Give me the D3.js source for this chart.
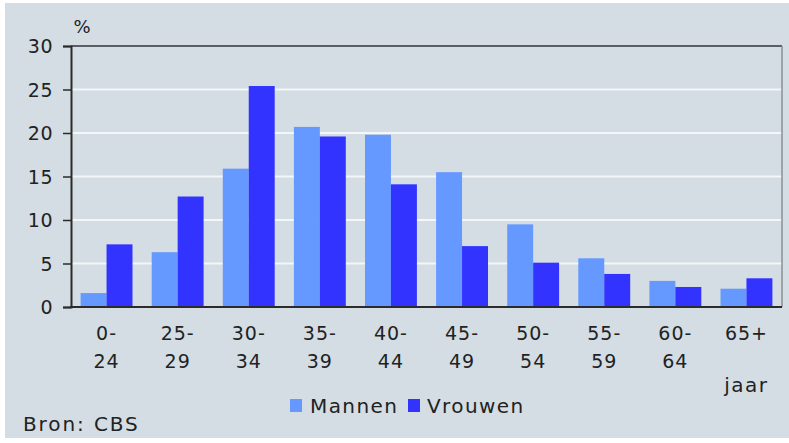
<!DOCTYPE html>
<html>
<head>
<meta charset="utf-8">
<script src="https://cdn.jsdelivr.net/npm/d3@7"></script>
<style>
  html, body { margin: 0; padding: 0; background: #fff; }
  text { font-family: "DejaVu Sans", Verdana, sans-serif; fill: #222; }
</style>
</head>
<body>
<div id="chart"></div>
<script>
// leeftijdsklassen (bovenste en onderste regel van het label)
const categories = ["0-24", "25-29", "30-34", "35-39", "40-44", "45-49", "50-54", "55-59", "60-64", "65+"];
const labelTop = ["0-", "25-", "30-", "35-", "40-", "45-", "50-", "55-", "60-", "65+"];
const labelBottom = ["24", "29", "34", "39", "44", "49", "54", "59", "64", ""];

const series = ["Mannen", "Vrouwen"];
const mannen = [1.6, 6.3, 15.9, 20.7, 19.8, 15.5, 9.5, 5.6, 3.0, 2.1];
const vrouwen = [7.2, 12.7, 25.4, 19.6, 14.1, 7.0, 5.1, 3.8, 2.3, 3.3];
const yTicks = [0, 5, 10, 15, 20, 25, 30];

const colors = { Mannen: "#6699ff", Vrouwen: "#3333ff" };

const width = 789, height = 443;
const plot = { left: 71, right: 782, top: 46, bottom: 307 };

const svg = d3.select("#chart").append("svg")
    .attr("width", width)
    .attr("height", height);

// achtergrond
svg.append("rect")
    .attr("x", 5).attr("y", 3)
    .attr("width", width - 5).attr("height", 435)
    .attr("fill", "#d3dde3");

const x = d3.scaleBand()
    .domain(categories)
    .range([plot.left, plot.right])
    .paddingInner(0.27)
    .paddingOuter(0.135);

const xSub = d3.scaleBand()
    .domain(series)
    .range([0, x.bandwidth()]);

const y = d3.scaleLinear()
    .domain([0, 30])
    .range([plot.bottom, plot.top]);

// witte rasterlijnen
svg.append("g")
    .selectAll("line")
    .data(yTicks.filter(d => d > 0 && d < 30))
    .join("line")
    .attr("x1", plot.left).attr("x2", plot.right)
    .attr("y1", d => y(d)).attr("y2", d => y(d))
    .attr("stroke", "#f4f7f9")
    .attr("stroke-width", 2);

// kader boven en rechts
svg.append("line")
    .attr("x1", plot.left).attr("x2", plot.right)
    .attr("y1", y(30)).attr("y2", y(30))
    .attr("stroke", "#5a5f63").attr("stroke-width", 2);
svg.append("line")
    .attr("x1", plot.right).attr("x2", plot.right)
    .attr("y1", y(30)).attr("y2", y(0))
    .attr("stroke", "#8a9095").attr("stroke-width", 1.5);

// balken
const rows = categories.map((c, i) => ({ cat: c, Mannen: mannen[i], Vrouwen: vrouwen[i] }));

svg.append("g")
    .selectAll("g")
    .data(rows)
    .join("g")
    .attr("transform", d => `translate(${x(d.cat)},0)`)
    .selectAll("rect")
    .data(d => series.map(s => ({ key: s, value: d[s] })))
    .join("rect")
    .attr("x", d => xSub(d.key))
    .attr("width", xSub.bandwidth())
    .attr("y", d => y(d.value))
    .attr("height", d => y(0) - y(d.value))
    .attr("fill", d => colors[d.key]);

// y-as
const yAxis = svg.append("g")
    .attr("transform", `translate(${plot.left},0)`)
    .call(d3.axisLeft(y).tickValues(yTicks).tickSize(8).tickPadding(10));
yAxis.select(".domain").attr("stroke", "#2b2b2b").attr("stroke-width", 2);
yAxis.selectAll(".tick line").attr("stroke", "#2b2b2b").attr("stroke-width", 1.5);
yAxis.selectAll(".tick text")
    .attr("font-size", 19)
    .attr("font-family", "DejaVu Sans, Verdana, sans-serif")
    .attr("fill", "#222")
    .attr("letter-spacing", 0.5)
    .attr("dy", "0.36em");

// x-as lijn
svg.append("line")
    .attr("x1", plot.left - 1).attr("x2", plot.right)
    .attr("y1", y(0)).attr("y2", y(0))
    .attr("stroke", "#2b2b2b").attr("stroke-width", 2);

// categorie labels
const xl = svg.append("g")
    .selectAll("text")
    .data(categories)
    .join("text")
    .attr("text-anchor", "middle")
    .attr("font-size", 19)
    .attr("letter-spacing", 1);
xl.append("tspan")
    .attr("x", d => x(d) + x.bandwidth() / 2)
    .attr("y", 340)
    .text((d, i) => labelTop[i]);
xl.append("tspan")
    .attr("x", d => x(d) + x.bandwidth() / 2)
    .attr("y", 368)
    .text((d, i) => labelBottom[i]);

// eenheden
svg.append("text")
    .attr("x", 82).attr("y", 33)
    .attr("text-anchor", "middle")
    .attr("font-size", 18)
    .text("%");

svg.append("text")
    .attr("x", x(categories[categories.length - 1]) + x.bandwidth() / 2)
    .attr("y", 392)
    .attr("text-anchor", "middle")
    .attr("font-size", 20)
    .attr("letter-spacing", 1.5)
    .text("jaar");

// legenda
const legendPos = [{ key: "Mannen", sx: 290, tx: 310 }, { key: "Vrouwen", sx: 408, tx: 427 }];
const lg = svg.append("g")
    .selectAll("g")
    .data(legendPos)
    .join("g");
lg.append("rect")
    .attr("x", d => d.sx).attr("y", 399)
    .attr("width", 12).attr("height", 13)
    .attr("fill", d => colors[d.key]);
lg.append("text")
    .attr("x", d => d.tx).attr("y", 413)
    .attr("font-size", 20)
    .attr("letter-spacing", 1.4)
    .text(d => d.key);

// bron
svg.append("text")
    .attr("x", 23).attr("y", 431)
    .attr("font-size", 20)
    .attr("letter-spacing", 1.9)
    .text("Bron: CBS");
</script>
</body>
</html>
